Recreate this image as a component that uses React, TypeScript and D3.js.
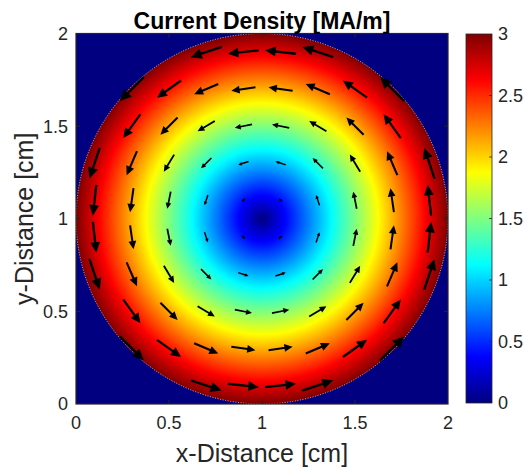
import React, { useMemo } from "react";
import * as d3 from "d3";

// ---- data ----
const X_DOMAIN = [0, 2];
const Y_DOMAIN = [0, 2];
const AXIS_TICKS = [0, 0.5, 1, 1.5, 2];
const CBAR_TICKS = [0, 0.5, 1, 1.5, 2, 2.5, 3];
const CBAR_DOMAIN = [0, 3];
const CENTER = [1, 1]; // cm
const RADIUS = [1]; // cm
const J_MAX = [3]; // MA/m at the rim
const QUIVER_X = [0.1, 0.3, 0.5, 0.7, 0.9, 1.1, 1.3, 1.5, 1.7, 1.9];
const QUIVER_Y = [0.1, 0.3, 0.5, 0.7, 0.9, 1.1, 1.3, 1.5, 1.7, 1.9];
const QUIVER_SCALE = [0.185]; // cm of arrow per unit normalised radius
const TITLE = "Current Density [MA/m]";
const X_LABEL = "x-Distance [cm]";
const Y_LABEL = "y-Distance [cm]";

// ---- layout ----
const W = 526;
const H = 468;
const PL = 76;
const PR = 448;
const PT = 33.5;
const PB = 404;
const CB_L = 466;
const CB_R = 492;
const CB_T = 34;
const CB_B = 403;
const AX = "#262626";
const FONT = "'Liberation Sans', Arial, Helvetica, sans-serif";

const clamp = (v: number) => Math.max(0, Math.min(1, v));
function jet(t: number): [number, number, number] {
  const r = clamp(Math.min(4 * t - 1.5, -4 * t + 4.5));
  const g = clamp(Math.min(4 * t - 0.5, -4 * t + 3.5));
  const b = clamp(Math.min(4 * t + 0.5, -4 * t + 2.5));
  return [r * 255, g * 255, b * 255];
}
const jetCss = (t: number) => {
  const [r, g, b] = jet(t);
  return d3.rgb(r, g, b).formatHex();
};

export default function App() {
  const x = d3.scaleLinear().domain(X_DOMAIN).range([PL, PR]);
  const y = d3.scaleLinear().domain(Y_DOMAIN).range([PB, PT]);
  const cScale = d3.scaleLinear().domain(CBAR_DOMAIN).range([0, 1]).clamp(true);
  const cbY = d3.scaleLinear().domain(CBAR_DOMAIN).range([CB_B, CB_T]);

  const field = (cx: number, cy: number) => {
    const dx = cx - CENTER[0];
    const dy = cy - CENTER[1];
    const r = Math.sqrt(dx * dx + dy * dy) / RADIUS[0];
    return { r, dx, dy };
  };

  const imgUrl = useMemo(() => {
    const w = Math.round(PR - PL);
    const h = Math.round(PB - PT);
    const canvas = document.createElement("canvas");
    canvas.width = w;
    canvas.height = h;
    const ctx = canvas.getContext("2d");
    if (!ctx) return "";
    const img = ctx.createImageData(w, h);
    for (let j = 0; j < h; j++) {
      const dy = y.invert(PT + ((j + 0.5) * (PB - PT)) / h);
      for (let i = 0; i < w; i++) {
        const dx = x.invert(PL + ((i + 0.5) * (PR - PL)) / w);
        const { r } = field(dx, dy);
        const val = r <= 1 ? J_MAX[0] * r : 0;
        const [rr, gg, bb] = jet(cScale(val));
        const k = (j * w + i) * 4;
        img.data[k] = rr;
        img.data[k + 1] = gg;
        img.data[k + 2] = bb;
        img.data[k + 3] = 255;
      }
    }
    ctx.putImageData(img, 0, 0);
    return canvas.toDataURL();
  }, []);

  const arrows: { x1: number; y1: number; x2: number; y2: number; L: number }[] = [];
  QUIVER_X.forEach((qx) => {
    QUIVER_Y.forEach((qy) => {
      const { r, dx, dy } = field(qx, qy);
      if (r >= 1 || r === 0) return;
      // counter-clockwise circulation, magnitude proportional to r
      const ux = (-dy / (r * RADIUS[0])) * QUIVER_SCALE[0] * r;
      const uy = (dx / (r * RADIUS[0])) * QUIVER_SCALE[0] * r;
      const x1 = x(qx - ux / 2);
      const y1 = y(qy - uy / 2);
      const x2 = x(qx + ux / 2);
      const y2 = y(qy + uy / 2);
      arrows.push({ x1, y1, x2, y2, L: Math.hypot(x2 - x1, y2 - y1) });
    });
  });

  const stops = d3.range(0, 1.0001, 1 / 48);
  const cr = x(CENTER[0] + RADIUS[0]) - x(CENTER[0]);
  const crY = y(CENTER[1]) - y(CENTER[1] + RADIUS[0]);
  const innerTicks = AXIS_TICKS.slice(1, -1);

  return (
    <svg
      width={W}
      height={H}
      style={{ position: "absolute", left: 0, top: 0, background: "#fff" }}
      fontFamily={FONT}
    >
      <defs>
        <linearGradient id="jetgrad" x1="0" y1="1" x2="0" y2="0">
          {stops.map((s) => (
            <stop key={s} offset={s} stopColor={jetCss(s)} />
          ))}
        </linearGradient>
        <clipPath id="plotclip">
          <rect x={PL} y={PT} width={PR - PL} height={PB - PT} />
        </clipPath>
      </defs>

      {/* heatmap */}
      <image
        href={imgUrl}
        x={PL}
        y={PT}
        width={PR - PL}
        height={PB - PT}
        preserveAspectRatio="none"
      />
      {/* dotted rim */}
      <ellipse
        cx={x(CENTER[0])}
        cy={y(CENTER[1])}
        rx={cr}
        ry={crY}
        fill="none"
        stroke="#ffffff"
        strokeOpacity={0.75}
        strokeWidth={0.9}
        strokeDasharray="1 1.6"
      />

      {/* arrows */}
      <g clipPath="url(#plotclip)">
        {arrows.map((a, i) => {
          const ang = Math.atan2(a.y2 - a.y1, a.x2 - a.x1);
          const hl = Math.max(3, 0.34 * a.L);
          const hw = Math.max(1.6, 0.16 * a.L);
          const bx = a.x2 - hl * Math.cos(ang);
          const by = a.y2 - hl * Math.sin(ang);
          const px = -Math.sin(ang);
          const py = Math.cos(ang);
          const pts = [
            [a.x2, a.y2],
            [bx + px * hw, by + py * hw],
            [bx - px * hw, by - py * hw],
          ]
            .map((p) => p.join(","))
            .join(" ");
          return (
            <g key={i}>
              <line
                x1={a.x1}
                y1={a.y1}
                x2={bx + 0.5 * hl * Math.cos(ang)}
                y2={by + 0.5 * hl * Math.sin(ang)}
                stroke="#000"
                strokeWidth={Math.min(2.4, 1 + a.L / 24)}
              />
              <polygon points={pts} fill="#000" />
            </g>
          );
        })}
      </g>

      {/* axes box */}
      <rect
        x={PL}
        y={PT}
        width={PR - PL}
        height={PB - PT}
        fill="none"
        stroke={AX}
        strokeWidth={1.2}
      />
      {innerTicks.map((t) => (
        <g key={"xt" + t} stroke={AX} strokeWidth={1}>
          <line x1={x(t)} x2={x(t)} y1={PB} y2={PB - 4} />
          <line x1={x(t)} x2={x(t)} y1={PT} y2={PT + 4} />
          <line x1={PL} x2={PL + 4} y1={y(t)} y2={y(t)} />
          <line x1={PR} x2={PR - 4} y1={y(t)} y2={y(t)} />
        </g>
      ))}
      {AXIS_TICKS.map((t) => (
        <text
          key={"xl" + t}
          x={x(t)}
          y={429}
          textAnchor="middle"
          fontSize={18}
          fill={AX}
        >
          {t}
        </text>
      ))}
      {AXIS_TICKS.map((t) => (
        <text
          key={"yl" + t}
          x={68}
          y={y(t)}
          dy="0.36em"
          textAnchor="end"
          fontSize={18}
          fill={AX}
        >
          {t}
        </text>
      ))}

      {/* colorbar */}
      <rect
        x={CB_L}
        y={CB_T}
        width={CB_R - CB_L}
        height={CB_B - CB_T}
        fill="url(#jetgrad)"
        stroke={AX}
        strokeWidth={0.8}
      />
      {CBAR_TICKS.map((t) => (
        <g key={"cb" + t}>
          {t !== 0 && t !== 3 && (
            <line
              x1={CB_R}
              x2={CB_R - 3}
              y1={cbY(t)}
              y2={cbY(t)}
              stroke={AX}
              strokeWidth={0.8}
            />
          )}
          <text
            x={498}
            y={cbY(t)}
            dy="0.36em"
            fontSize={18}
            fill={AX}
          >
            {t}
          </text>
        </g>
      ))}

      {/* labels */}
      <text
        x={(PL + PR) / 2}
        y={29}
        textAnchor="middle"
        fontSize={23}
        fontWeight="bold"
        fill="#000"
      >
        {TITLE}
      </text>
      <text
        x={(PL + PR) / 2}
        y={462}
        textAnchor="middle"
        fontSize={25}
        fill={AX}
      >
        {X_LABEL}
      </text>
      <text
        transform={`translate(33,${(PT + PB) / 2}) rotate(-90)`}
        textAnchor="middle"
        fontSize={25}
        fill={AX}
      >
        {Y_LABEL}
      </text>
    </svg>
  );
}
